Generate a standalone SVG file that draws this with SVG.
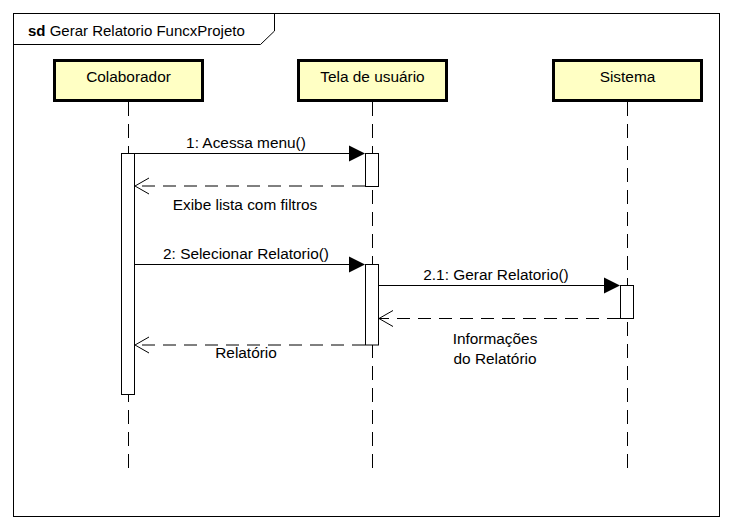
<svg xmlns="http://www.w3.org/2000/svg" width="733" height="530" viewBox="0 0 733 530">
<defs>
<style>
text{font-family:"Liberation Sans",Arial,sans-serif;font-size:15.4px;fill:#000}
.t{font-size:15px}
.c{text-anchor:middle}
.box{fill:#FFFFC4;stroke:#000;stroke-width:3}
.life{stroke:#000;stroke-width:1;stroke-dasharray:14 8;fill:none}
.act{fill:#fff;stroke:#000;stroke-width:1}
.sync{stroke:#000;stroke-width:1;fill:none}
.ret{stroke:#000;stroke-width:1;stroke-dasharray:13 8;fill:none}
.open{stroke:#000;stroke-width:1;fill:none}
</style>
</defs>
<rect width="733" height="530" fill="#fff"/>
<g id="frame">
<rect x="13.5" y="13.5" width="706" height="503" fill="none" stroke="#000"/>
<path d="M13.5,44.5 H260.5 L274.5,31 V13.5" fill="none" stroke="#000"/>
<text class="t" x="28" y="36"><tspan font-weight="bold">sd</tspan> Gerar Relatorio FuncxProjeto</text>
</g>
<g id="lifelines">
<line class="life" x1="128.5" y1="102" x2="128.5" y2="472"/>
<line class="life" x1="372.5" y1="102" x2="372.5" y2="472"/>
<line class="life" x1="627.5" y1="102" x2="627.5" y2="472"/>
</g>
<g id="colaborador">
<rect class="box" x="54.5" y="60.5" width="148" height="40"/>
<text class="c" x="128.5" y="82">Colaborador</text>
<rect class="act" x="121.5" y="153.5" width="13" height="241"/>
</g>
<g id="tela">
<rect class="box" x="298.5" y="60.5" width="148" height="40"/>
<text class="c" x="372.5" y="82">Tela de usuário</text>
<rect class="act" x="365.5" y="153.5" width="13" height="33"/>
<rect class="act" x="365.5" y="264.5" width="13" height="80.5"/>
</g>
<g id="sistema">
<rect class="box" x="553.5" y="60.5" width="148" height="40"/>
<text class="c" x="627.5" y="82">Sistema</text>
<rect class="act" x="620.5" y="285.5" width="13" height="33"/>
</g>
<g id="connectors">
<line class="sync" x1="135" y1="153.5" x2="350" y2="153.5"/>
<polygon points="349,145.5 365,153.5 349,161.5" fill="#000"/>
<text class="c" x="246" y="148">1: Acessa menu()</text>

<line class="ret" x1="365" y1="186" x2="135" y2="186"/>
<polyline class="open" points="149,178 135,186 149,194"/>
<text class="c" x="245" y="210">Exibe lista com filtros</text>

<line class="sync" x1="135" y1="264.5" x2="350" y2="264.5"/>
<polygon points="349,256.5 365,264.5 349,272.5" fill="#000"/>
<text class="c" x="246" y="259">2: Selecionar Relatorio()</text>

<line class="sync" x1="378.5" y1="285.5" x2="605" y2="285.5"/>
<polygon points="604,277.5 620,285.5 604,293.5" fill="#000"/>
<text class="c" x="496" y="280">2.1: Gerar Relatorio()</text>

<line class="ret" x1="620" y1="318.5" x2="379" y2="318.5"/>
<polyline class="open" points="393,310.5 379,318.5 393,326.5"/>
<text class="c" x="495" y="344">Informações</text>
<text class="c" x="495" y="364">do Relatório</text>

<line class="ret" x1="365" y1="345" x2="135" y2="345"/>
<polyline class="open" points="149,337 135,345 149,353"/>
<text class="c" x="246" y="358">Relatório</text>
</g>
</svg>
